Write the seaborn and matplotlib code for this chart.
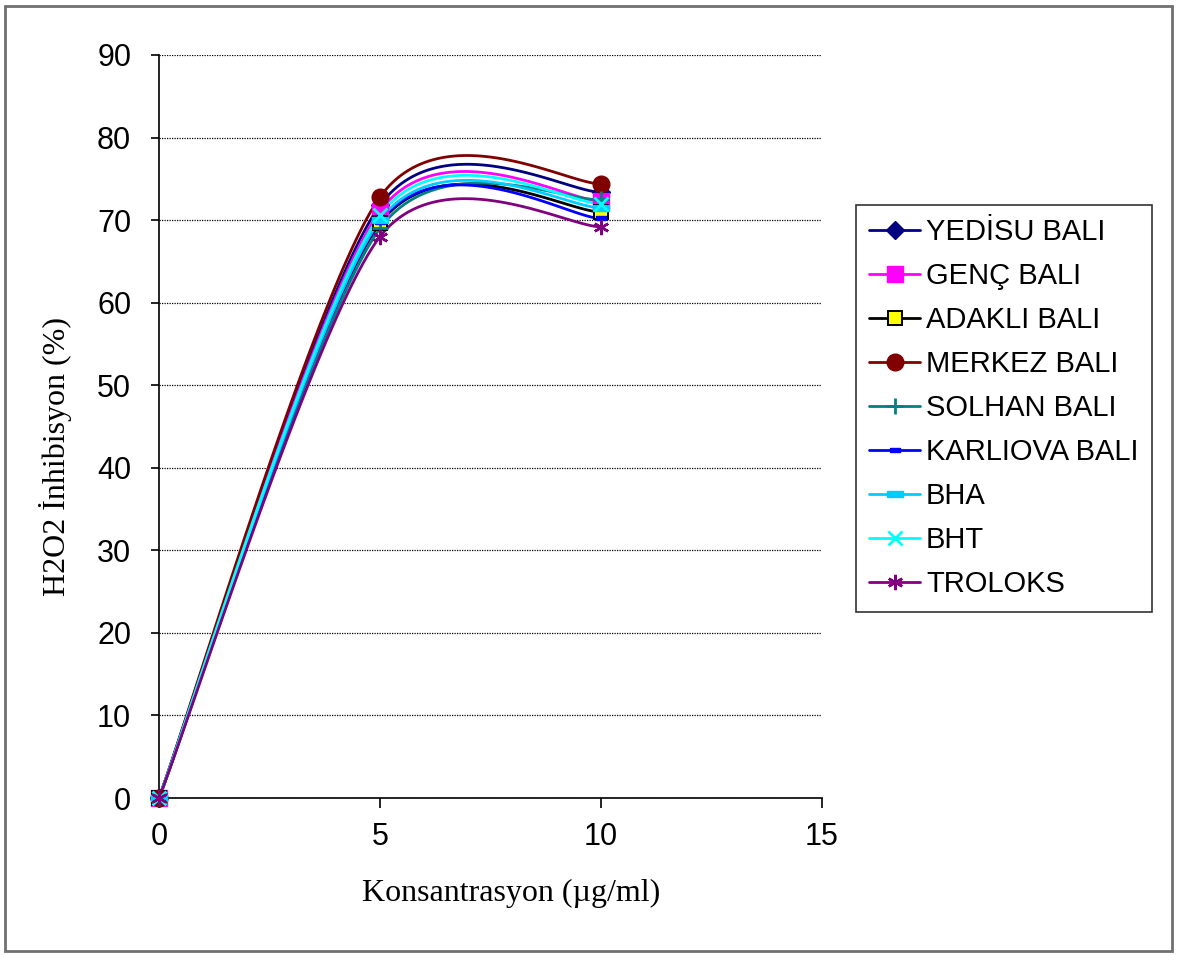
import numpy as np
import pandas as pd
import matplotlib
matplotlib.use("Agg")
import matplotlib.pyplot as plt
from matplotlib.lines import Line2D
from matplotlib.patches import Rectangle
import seaborn as sns

# Concentrations (µg/ml) and H2O2 inhibition (%) per sample
konsantrasyon = [0, 5, 10]
yedisu = [0, 71.8, 73.4]
genc = [0, 71.1, 72.3]
adakli = [0, 69.6, 71.0]
merkez = [0, 72.8, 74.4]
solhan = [0, 69.0, 72.5]
karliova = [0, 69.8, 70.2]
bha = [0, 70.0, 71.5]
bht = [0, 70.6, 72.0]
troloks = [0, 68.0, 69.2]

names = ["YEDİSU BALI", "GENÇ BALI", "ADAKLI BALI", "MERKEZ BALI", "SOLHAN BALI",
         "KARLIOVA BALI", "BHA", "BHT", "TROLOKS"]
values = [yedisu, genc, adakli, merkez, solhan, karliova, bha, bht, troloks]

small_bar = [(-1, -0.45), (1, -0.45), (1, 0.45), (-1, 0.45), (-1, -0.45)]
flat_bar = [(-1, -0.31), (1, -0.31), (1, 0.31), (-1, 0.31), (-1, -0.31)]
styles = [
    dict(color="#000080", marker="D", mfc="#000080", mec="#000080", ms=9.5),
    dict(color="#FF00FF", marker="s", mfc="#FF00FF", mec="#FF00FF", ms=12),
    dict(color="#000000", marker="s", mfc="#FFFF00", mec="#000000", ms=10, mew=1.4),
    dict(color="#800000", marker="o", mfc="#800000", mec="#800000", ms=12),
    dict(color="#008080", marker="+", mfc="#008080", mec="#008080", ms=12, mew=2),
    dict(color="#0000FF", marker=small_bar, mfc="#0000FF", mec="#0000FF", ms=7),
    dict(color="#00CCFF", marker=flat_bar, mfc="#00CCFF", mec="#00CCFF", ms=12),
    dict(color="#00FFFF", marker="x", mfc="#00FFFF", mec="#00FFFF", ms=10.5, mew=2),
    dict(color="#800080", marker=(6, 2, 0), mfc="#800080", mec="#800080", ms=11, mew=1.8),
]


def smooth_curve(x, y, k=0.14, n=60):
    """Cubic Bezier smoothing through the points (Catmull-Rom style tangents)."""
    p = np.column_stack([x, y]).astype(float)
    out = []
    for i in range(len(p) - 1):
        p0 = p[i - 1] if i > 0 else p[i]
        p1, p2 = p[i], p[i + 1]
        p3 = p[i + 2] if i + 2 < len(p) else p[i + 1]
        c1 = p1 + (p2 - p0) * k
        c2 = p2 - (p3 - p1) * k
        t = np.linspace(0, 1, n)[:, None]
        seg = ((1 - t) ** 3) * p1 + 3 * ((1 - t) ** 2) * t * c1 + 3 * (1 - t) * t ** 2 * c2 + t ** 3 * p2
        out.append(seg if i == 0 else seg[1:])
    seg = np.vstack(out)
    return seg[:, 0], seg[:, 1]


sns.set_style("white")
plt.rcParams["font.family"] = ["Liberation Sans", "DejaVu Sans"]
plt.rcParams["text.color"] = "black"

fig = plt.figure(figsize=(11.78, 9.56), dpi=100)
ax = fig.add_axes([159 / 1178, 1 - 798 / 956, (822 - 159) / 1178, (798 - 55) / 956])

for name, vals, st in zip(names, values, styles):
    sx, sy = smooth_curve(konsantrasyon, vals)
    curve = pd.DataFrame({"x": sx, "y": sy})
    sns.lineplot(data=curve, x="x", y="y", ax=ax, color=st["color"], lw=2,
                 sort=False, estimator=None, legend=False)
    ax.plot(konsantrasyon, vals, ls="none", marker=st["marker"], ms=st["ms"],
            mfc=st["mfc"], mec=st["mec"], mew=st.get("mew", 1), zorder=3,
            clip_on=False)

ax.set_xlim(0, 15)
ax.set_ylim(0, 90)
ax.set_xticks([0, 5, 10, 15])
ax.set_yticks(range(0, 91, 10))
ax.yaxis.grid(True, color="black", ls=(0, (1, 1)), lw=0.9)
ax.xaxis.grid(False)
ax.set_axisbelow(True)
for side in ["top", "right"]:
    ax.spines[side].set_visible(False)
for side in ["left", "bottom"]:
    ax.spines[side].set_color("black")
    ax.spines[side].set_linewidth(1.2)
ax.tick_params(axis="y", direction="out", length=6, width=1.2, pad=14, labelsize=22,
               left=True, colors="black")
ax.tick_params(axis="x", direction="out", length=7, width=1.2, pad=10, labelsize=22,
               bottom=True, colors="black")
ax.set_xlabel("")
ax.set_ylabel("")

fig.text(511 / 1178, 1 - 893 / 956, "Konsantrasyon (µg/ml)", ha="center", va="center",
         fontsize=23, color="black", family=["Liberation Serif", "DejaVu Serif"])
fig.text(55 / 1178, 1 - 457 / 956, "H2O2 İnhibisyon (%)", ha="center", va="center",
         rotation=90, fontsize=23, color="black", family=["Liberation Serif", "DejaVu Serif"])

handles = [Line2D([], [], color=st["color"], lw=2, marker=st["marker"], ms=st["ms"],
                  mfc=st["mfc"], mec=st["mec"], mew=st.get("mew", 1)) for st in styles]
leg = fig.legend(handles, names, loc="upper left",
                 bbox_to_anchor=(856 / 1178, 1 - 205 / 956), borderaxespad=0,
                 fontsize=21, frameon=True, fancybox=False, edgecolor="black",
                 handlelength=1.75, handletextpad=0.2, labelspacing=0.55,
                 borderpad=0.45, labelcolor="black")
leg.get_frame().set_linewidth(1.2)

fig.patches.append(Rectangle((5 / 1178, 5 / 956), 1167 / 1178, 945 / 956,
                             transform=fig.transFigure, fill=False,
                             edgecolor="#707070", lw=2))

fig.savefig("out.png", dpi=100)
